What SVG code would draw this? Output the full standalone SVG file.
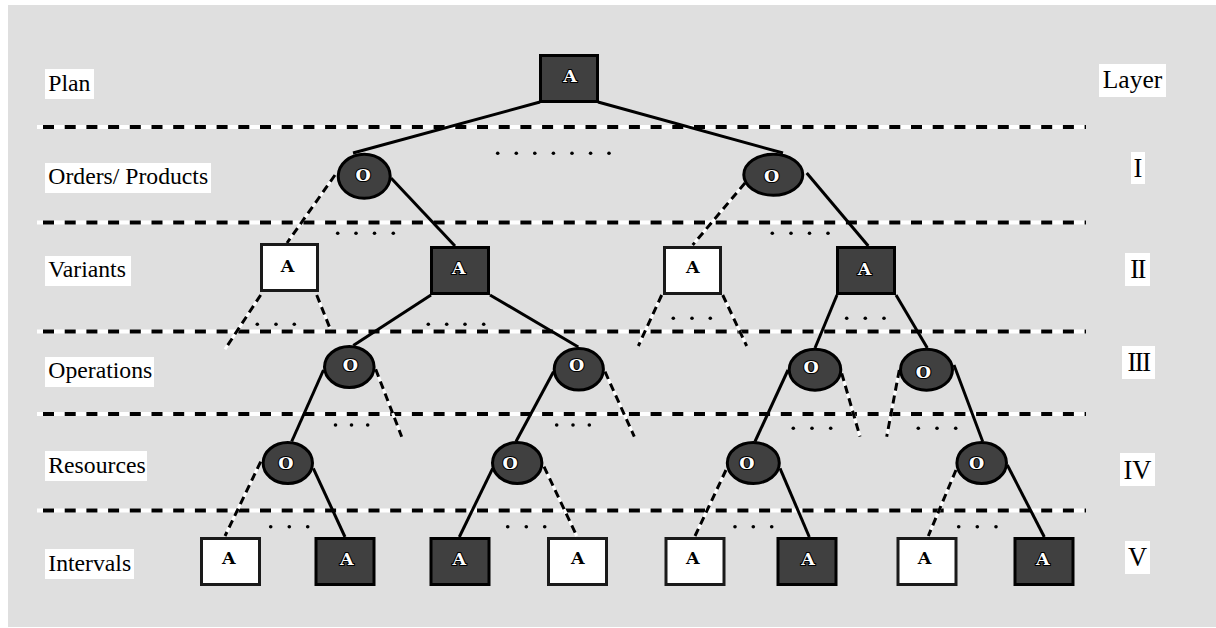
<svg xmlns="http://www.w3.org/2000/svg" width="1216" height="628" viewBox="0 0 1216 628">
<style>
.bg{fill:#dfdfdf}
.lay-w{stroke:#fff;stroke-width:4;fill:none}
.lay-b{stroke:#000;stroke-width:4;fill:none;stroke-dasharray:11 10.7;stroke-dashoffset:15.7}
.lbl-box{fill:#fff}
.lbl{font-family:"Liberation Serif","Times New Roman",serif;font-size:23.7px;fill:#000}
.rlbl{font-family:"Liberation Serif","Times New Roman",serif;font-size:26.5px;fill:#000;text-anchor:middle}
.sol{stroke:#000;stroke-width:3;fill:none}
.dw{stroke:#fff;stroke-width:3;fill:none}
.db{stroke:#000;stroke-width:3;fill:none;stroke-dasharray:8 5}
.dark{fill:#404040;stroke:#000;stroke-width:3}
.light{fill:#fff;stroke:#1a1a1a;stroke-width:3}
.ell{fill:#404040;stroke:#000;stroke-width:3}
.tw{font-family:"DejaVu Serif",serif;font-weight:bold;font-size:17.5px;fill:#fff;stroke:#000;stroke-width:2.2;paint-order:stroke;text-anchor:middle}
.tb{font-family:"DejaVu Serif",serif;font-weight:bold;font-size:17.5px;fill:#000;text-anchor:middle}
.dot{fill:#000}
</style>
<rect class="bg" x="8" y="5" width="1208" height="622"/>

<g id="layers">
<g id="layer-lines">
<line class="lay-w" x1="37" y1="127" x2="1086" y2="127"/><line class="lay-b" x1="37" y1="127" x2="1086" y2="127"/>
<line class="lay-w" x1="37" y1="222.5" x2="1086" y2="222.5"/><line class="lay-b" x1="37" y1="222.5" x2="1086" y2="222.5"/>
<line class="lay-w" x1="37" y1="331.5" x2="1086" y2="331.5"/><line class="lay-b" x1="37" y1="331.5" x2="1086" y2="331.5"/>
<line class="lay-w" x1="37" y1="414" x2="1086" y2="414"/><line class="lay-b" x1="37" y1="414" x2="1086" y2="414"/>
<line class="lay-w" x1="37" y1="510.5" x2="1086" y2="510.5"/><line class="lay-b" x1="37" y1="510.5" x2="1086" y2="510.5"/>
</g>
<g id="left-labels">
<rect class="lbl-box" x="45" y="69" width="49" height="30"/><text class="lbl" x="48.3" y="91">Plan</text>
<rect class="lbl-box" x="45" y="163" width="166" height="30"/><text class="lbl" x="48.3" y="184.3">Orders/ Products</text>
<rect class="lbl-box" x="45" y="256" width="86" height="30"/><text class="lbl" x="48.3" y="277">Variants</text>
<rect class="lbl-box" x="45" y="357" width="109" height="30"/><text class="lbl" x="48.3" y="378">Operations</text>
<rect class="lbl-box" x="45" y="451" width="102" height="30"/><text class="lbl" x="48.3" y="473">Resources</text>
<rect class="lbl-box" x="45" y="549" width="89" height="30"/><text class="lbl" x="48.3" y="571">Intervals</text>
</g>
<g id="right-labels">
<rect class="lbl-box" x="1099" y="64" width="67" height="33"/><text class="rlbl" x="1132.5" y="88" style="font-size:25.5px">Layer</text>
<rect class="lbl-box" x="1131" y="152" width="14" height="32"/><text class="rlbl" x="1138" y="176.5">I</text>
<rect class="lbl-box" x="1125" y="253" width="25" height="33"/><text class="rlbl" x="1137.5" y="277.5" letter-spacing="-1.5">II</text>
<rect class="lbl-box" x="1122" y="346" width="33" height="33"/><text class="rlbl" x="1138.5" y="371" letter-spacing="-1.5">III</text>
<rect class="lbl-box" x="1120" y="453" width="35" height="33"/><text class="rlbl" x="1137.5" y="479">IV</text>
<rect class="lbl-box" x="1125" y="541" width="25" height="33"/><text class="rlbl" x="1137.5" y="566">V</text>
</g>
</g>

<g id="connectors">
<g id="solid">
<line class="sol" x1="540" y1="102" x2="353" y2="153"/>
<line class="sol" x1="598" y1="102" x2="783" y2="153"/>
<line class="sol" x1="391" y1="178" x2="455" y2="246"/>
<line class="sol" x1="806.7" y1="173" x2="868.3" y2="246"/>
<line class="sol" x1="431" y1="295" x2="353.3" y2="345.5"/>
<line class="sol" x1="490" y1="295" x2="578.3" y2="347"/>
<line class="sol" x1="837" y1="295" x2="815" y2="348"/>
<line class="sol" x1="896" y1="295" x2="927.3" y2="348"/>
<line class="sol" x1="323.5" y1="370" x2="291.7" y2="441.5"/>
<line class="sol" x1="553.5" y1="371.7" x2="516" y2="441.5"/>
<line class="sol" x1="788" y1="370" x2="755" y2="441.5"/>
<line class="sol" x1="954" y1="365" x2="982.7" y2="441.5"/>
<line class="sol" x1="313.3" y1="468.3" x2="345" y2="537"/>
<line class="sol" x1="492.7" y1="468.3" x2="459.3" y2="537"/>
<line class="sol" x1="780" y1="468.3" x2="809.3" y2="537"/>
<line class="sol" x1="1007.3" y1="465" x2="1044.3" y2="537"/>
</g>
<g id="dashed">
<line class="dw" x1="335" y1="175" x2="287" y2="243"/><line class="db" x1="335" y1="175" x2="287" y2="243"/>
<line class="dw" x1="745" y1="183" x2="692.7" y2="245"/><line class="db" x1="745" y1="183" x2="692.7" y2="245"/>
<line class="dw" x1="260.7" y1="295" x2="225" y2="349.3"/><line class="db" x1="260.7" y1="295" x2="225" y2="349.3"/>
<line class="dw" x1="316.7" y1="295" x2="330" y2="328.3"/><line class="db" x1="316.7" y1="295" x2="330" y2="328.3"/>
<line class="dw" x1="661.7" y1="295" x2="638.3" y2="346"/><line class="db" x1="661.7" y1="295" x2="638.3" y2="346"/>
<line class="dw" x1="722.7" y1="295" x2="746.7" y2="346"/><line class="db" x1="722.7" y1="295" x2="746.7" y2="346"/>
<line class="dw" x1="375.7" y1="369.3" x2="401.7" y2="436.7"/><line class="db" x1="375.7" y1="369.3" x2="401.7" y2="436.7"/>
<line class="dw" x1="605" y1="371.7" x2="634.3" y2="436.7"/><line class="db" x1="605" y1="371.7" x2="634.3" y2="436.7"/>
<line class="dw" x1="841.7" y1="373.3" x2="860" y2="436.7"/><line class="db" x1="841.7" y1="373.3" x2="860" y2="436.7"/>
<line class="dw" x1="899.3" y1="370" x2="886.7" y2="436.7"/><line class="db" x1="899.3" y1="370" x2="886.7" y2="436.7"/>
<line class="dw" x1="260.7" y1="461.7" x2="225" y2="536"/><line class="db" x1="260.7" y1="461.7" x2="225" y2="536"/>
<line class="dw" x1="544" y1="466.7" x2="576.7" y2="536"/><line class="db" x1="544" y1="466.7" x2="576.7" y2="536"/>
<line class="dw" x1="726" y1="470" x2="695" y2="536"/><line class="db" x1="726" y1="470" x2="695" y2="536"/>
<line class="dw" x1="956" y1="470" x2="928.3" y2="536"/><line class="db" x1="956" y1="470" x2="928.3" y2="536"/>
</g>
<g id="ellipsis-dots">
<circle class="dot" cx="497.7" cy="153.3" r="1.8"/><circle class="dot" cx="516.3" cy="153.3" r="1.8"/><circle class="dot" cx="534.8" cy="153.3" r="1.8"/><circle class="dot" cx="553.4" cy="153.3" r="1.8"/><circle class="dot" cx="572" cy="153.3" r="1.8"/><circle class="dot" cx="590.6" cy="153.3" r="1.8"/><circle class="dot" cx="609" cy="153.3" r="1.8"/>
<circle class="dot" cx="337.7" cy="233.3" r="1.8"/><circle class="dot" cx="356" cy="233.3" r="1.8"/><circle class="dot" cx="374.5" cy="233.3" r="1.8"/><circle class="dot" cx="393.3" cy="233.3" r="1.8"/>
<circle class="dot" cx="772.3" cy="233.3" r="1.8"/><circle class="dot" cx="791" cy="233.3" r="1.8"/><circle class="dot" cx="809.5" cy="233.3" r="1.8"/><circle class="dot" cx="828" cy="233.3" r="1.8"/>
<circle class="dot" cx="257.3" cy="324.3" r="1.8"/><circle class="dot" cx="276" cy="324.3" r="1.8"/><circle class="dot" cx="294.3" cy="324.3" r="1.8"/>
<circle class="dot" cx="428.3" cy="324.3" r="1.8"/><circle class="dot" cx="446.7" cy="324.3" r="1.8"/><circle class="dot" cx="465" cy="324.3" r="1.8"/><circle class="dot" cx="483.7" cy="324.3" r="1.8"/>
<circle class="dot" cx="673.3" cy="318.3" r="1.8"/><circle class="dot" cx="692" cy="318.3" r="1.8"/><circle class="dot" cx="710.3" cy="318.3" r="1.8"/>
<circle class="dot" cx="846.7" cy="318.3" r="1.8"/><circle class="dot" cx="865.3" cy="318.3" r="1.8"/><circle class="dot" cx="884" cy="318.3" r="1.8"/>
<circle class="dot" cx="335.5" cy="425" r="1.8"/><circle class="dot" cx="351.5" cy="425" r="1.8"/><circle class="dot" cx="367.7" cy="425" r="1.8"/>
<circle class="dot" cx="556.7" cy="425" r="1.8"/><circle class="dot" cx="573" cy="425" r="1.8"/><circle class="dot" cx="589.3" cy="425" r="1.8"/>
<circle class="dot" cx="793.3" cy="428.3" r="1.8"/><circle class="dot" cx="812" cy="428.3" r="1.8"/><circle class="dot" cx="830.7" cy="428.3" r="1.8"/>
<circle class="dot" cx="918.3" cy="428.3" r="1.8"/><circle class="dot" cx="937" cy="428.3" r="1.8"/><circle class="dot" cx="955.7" cy="428.3" r="1.8"/>
<circle class="dot" cx="270.7" cy="526.7" r="1.8"/><circle class="dot" cx="289.3" cy="526.7" r="1.8"/><circle class="dot" cx="307.7" cy="526.7" r="1.8"/>
<circle class="dot" cx="507.7" cy="526.7" r="1.8"/><circle class="dot" cx="526.3" cy="526.7" r="1.8"/><circle class="dot" cx="544.7" cy="526.7" r="1.8"/>
<circle class="dot" cx="735" cy="526.7" r="1.8"/><circle class="dot" cx="753.3" cy="526.7" r="1.8"/><circle class="dot" cx="771.7" cy="526.7" r="1.8"/>
<circle class="dot" cx="958.7" cy="526.7" r="1.8"/><circle class="dot" cx="977.3" cy="526.7" r="1.8"/><circle class="dot" cx="996" cy="526.7" r="1.8"/>
</g>
</g>

<g id="n-plan"><rect class="dark" x="540.5" y="55.5" width="57" height="46"/><text class="tw" x="570" y="81.5">A</text></g>

<g id="n-o1a"><ellipse class="ell" cx="364.2" cy="176.3" rx="26" ry="22"/><text class="tw" x="363" y="180.7">O</text></g>
<g id="n-o1b"><ellipse class="ell" cx="773.3" cy="174.7" rx="29.5" ry="20.5"/><text class="tw" x="771.5" y="181.7">O</text></g>

<g id="n-v1"><rect class="light" x="261.5" y="244.5" width="56" height="46"/><text class="tb" x="287.5" y="271.7">A</text></g>
<g id="n-v2"><rect class="dark" x="431.5" y="247.5" width="57" height="46"/><text class="tw" x="458.7" y="274.3">A</text></g>
<g id="n-v3"><rect class="light" x="664.5" y="247.5" width="56" height="46"/><text class="tb" x="692.7" y="272.7">A</text></g>
<g id="n-v4"><rect class="dark" x="837.5" y="247.5" width="57" height="46"/><text class="tw" x="864.5" y="275">A</text></g>

<g id="n-op1"><ellipse class="ell" cx="349.3" cy="367" rx="24.8" ry="20.5"/><text class="tw" x="350.3" y="371">O</text></g>
<g id="n-op2"><ellipse class="ell" cx="578.8" cy="369.3" rx="24.6" ry="20.8"/><text class="tw" x="576.7" y="370.7">O</text></g>
<g id="n-op3"><ellipse class="ell" cx="815" cy="369.7" rx="25.8" ry="20.5"/><text class="tw" x="811" y="373.3">O</text></g>
<g id="n-op4"><ellipse class="ell" cx="926.5" cy="369.7" rx="26" ry="20.5"/><text class="tw" x="923.3" y="378.3">O</text></g>

<g id="n-r1"><ellipse class="ell" cx="287.8" cy="463" rx="24.7" ry="20.5"/><text class="tw" x="285.8" y="469.3">O</text></g>
<g id="n-r2"><ellipse class="ell" cx="517.2" cy="463" rx="24.7" ry="20.5"/><text class="tw" x="510" y="469.3">O</text></g>
<g id="n-r3"><ellipse class="ell" cx="753.3" cy="463" rx="26" ry="20.5"/><text class="tw" x="746.8" y="469.3">O</text></g>
<g id="n-r4"><ellipse class="ell" cx="981.7" cy="463" rx="24.8" ry="20.5"/><text class="tw" x="976.7" y="469.3">O</text></g>

<g id="n-i1"><rect class="light" x="201.5" y="538.5" width="58" height="46"/><text class="tb" x="228.8" y="564">A</text></g>
<g id="n-i2"><rect class="dark" x="316" y="538.5" width="58" height="46"/><text class="tw" x="346.7" y="564.5">A</text></g>
<g id="n-i3"><rect class="dark" x="431" y="538.5" width="58" height="46"/><text class="tw" x="459.2" y="564.5">A</text></g>
<g id="n-i4"><rect class="light" x="548.5" y="538.5" width="58" height="46"/><text class="tb" x="577.8" y="564">A</text></g>
<g id="n-i5"><rect class="light" x="666" y="538.5" width="58" height="46"/><text class="tb" x="692.8" y="564">A</text></g>
<g id="n-i6"><rect class="dark" x="778" y="538.5" width="58" height="46"/><text class="tw" x="808" y="564.5">A</text></g>
<g id="n-i7"><rect class="light" x="898" y="538.5" width="58" height="46"/><text class="tb" x="924.5" y="564">A</text></g>
<g id="n-i8"><rect class="dark" x="1015" y="538.5" width="58" height="46"/><text class="tw" x="1042.8" y="564.5">A</text></g>
</svg>
